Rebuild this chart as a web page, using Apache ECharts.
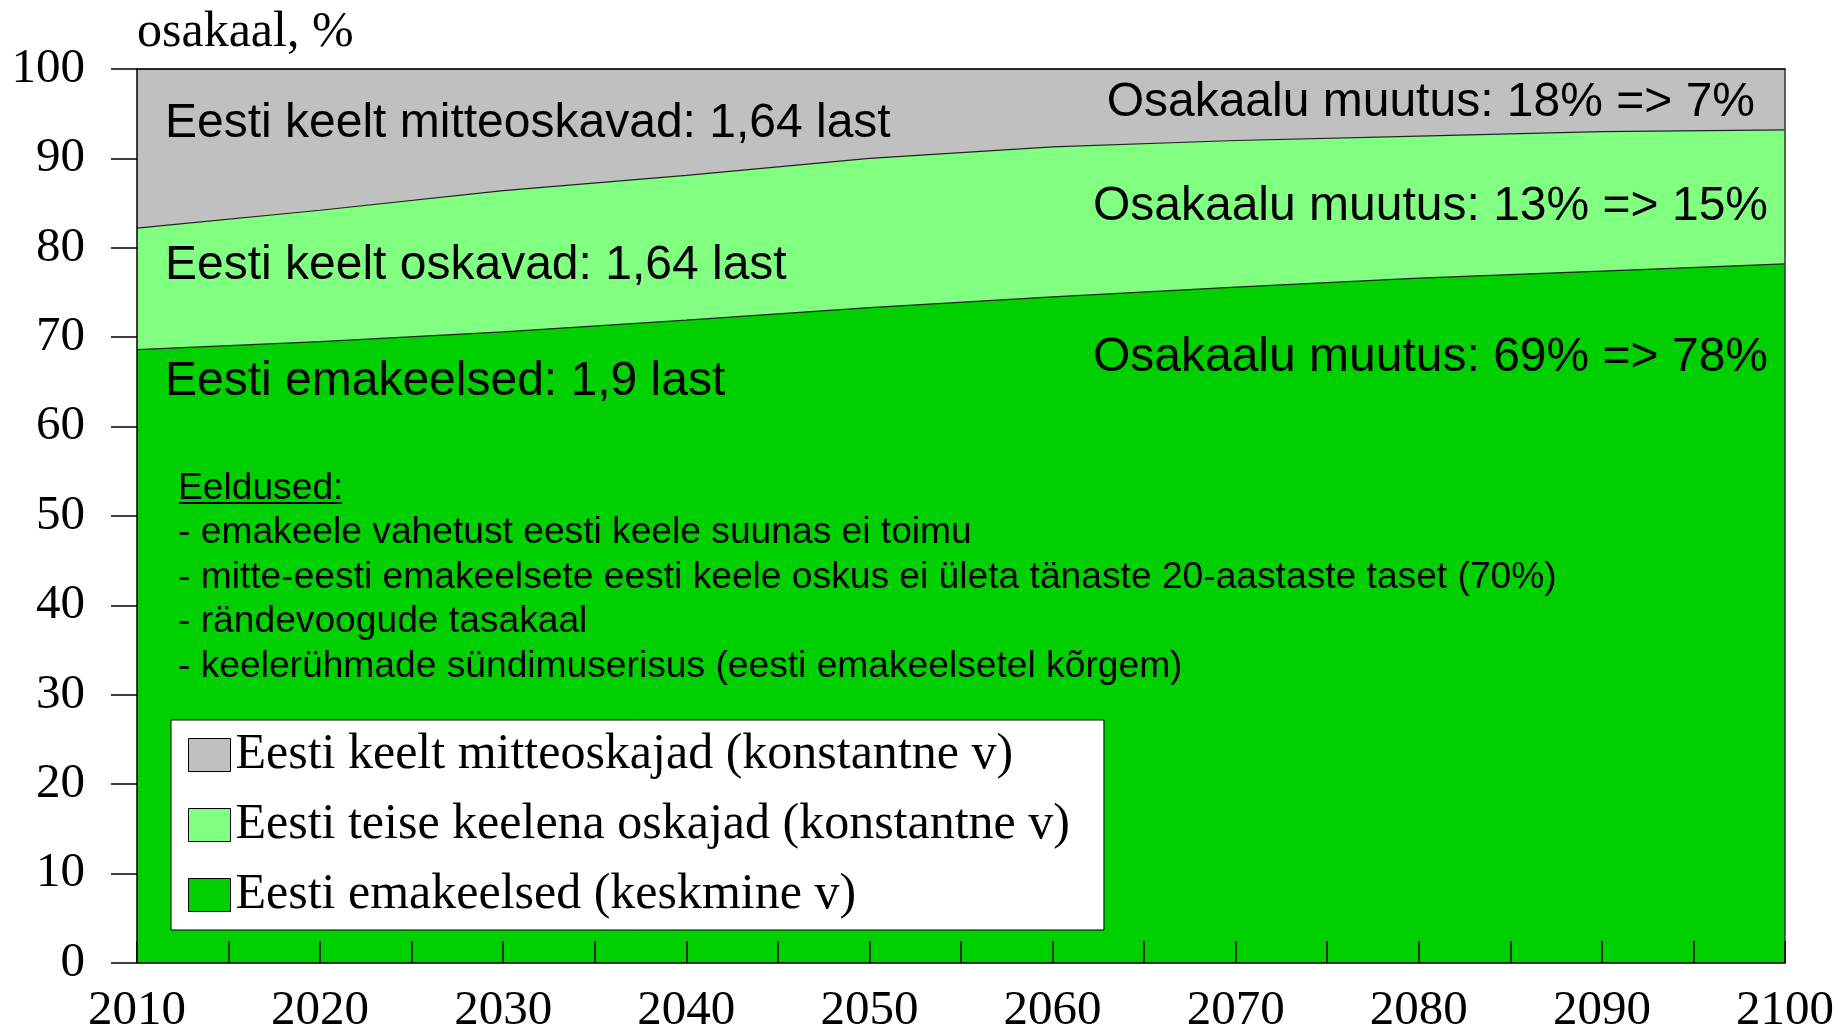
<!DOCTYPE html>
<html>
<head>
<meta charset="utf-8">
<script src="https://cdn.jsdelivr.net/npm/echarts@6/dist/echarts.min.js"></script>
<style>
  html, body { margin: 0; padding: 0; background: #fff; }
  #chart { width: 1838px; height: 1032px; }
</style>
</head>
<body>
<div id="chart"></div>
<script>
// aastad ja osakaalud (%), loetud jooniselt
var years = [2010, 2020, 2030, 2040, 2050, 2060, 2070, 2080, 2090, 2100]
var emakeelsed = [68.6, 69.5, 70.6, 71.9, 73.3, 74.5, 75.6, 76.6, 77.4, 78.2]
var teiseKeelena = [13.6, 14.7, 15.8, 16.2, 16.7, 16.8, 16.4, 15.9, 15.6, 15.0]
var mitteoskajad = [17.8, 15.8, 13.6, 11.9, 10.0, 8.7, 8.0, 7.5, 7.0, 6.8]

var seriesNames = [
  'Eesti keelt mitteoskajad (konstantne v)',
  'Eesti teise keelena oskajad (konstantne v)',
  'Eesti emakeelsed (keskmine v)'
]
var seriesColors = ['#c0c0c0', '#80ff80', '#00d000']

var layerLabels = [
  'Eesti keelt mitteoskavad: 1,64 last',
  'Eesti keelt oskavad: 1,64 last',
  'Eesti emakeelsed: 1,9 last'
]
var changeLabels = [
  'Osakaalu muutus: 18% => 7%',
  'Osakaalu muutus: 13% => 15%',
  'Osakaalu muutus: 69% => 78%'
]
var assumptions = [
  '- emakeele vahetust eesti keele suunas ei toimu',
  '- mitte-eesti emakeelsete eesti keele oskus ei ületa tänaste 20-aastaste taset (70%)',
  '- rändevoogude tasakaal',
  '- keelerühmade sündimuserisus (eesti emakeelsetel kõrgem)'
]

// kihid kuhjatakse käsitsi: iga pind ulatub nullist oma kumulatiivse väärtuseni
var cumTeise = emakeelsed.map(function (v, i) { return v + teiseKeelena[i] })
var cumKokku = cumTeise.map(function (v, i) { return v + mitteoskajad[i] })

function pairs(vals) {
  return years.map(function (y, i) { return [y, +vals[i].toFixed(2)] })
}

var serif = 'Liberation Serif'
var sans = 'Liberation Sans'

var chart = echarts.init(document.getElementById('chart'))

var layers = [cumKokku, cumTeise, emakeelsed]
var series = layers.map(function (vals, i) {
  return {
    name: seriesNames[i],
    type: 'line',
    data: pairs(vals),
    symbol: 'none',
    silent: true,
    z: 2 + i,
    itemStyle: { color: seriesColors[i] },
    lineStyle: { color: '#222', width: 1.2 },
    areaStyle: { color: seriesColors[i], opacity: 1, origin: 'start' }
  }
})

var graphics = []
// kihtide nimed vasakul
var leftY = [128, 270, 386]
layerLabels.forEach(function (t, i) {
  graphics.push({
    type: 'text', left: 165, top: leftY[i] - 28, z: 100,
    style: { text: t, font: '48px "' + sans + '"', fill: '#000' }
  })
})
// osakaalu muutused paremal
var rightY = [107, 211, 362]
var rightX = [1755, 1768, 1768]
changeLabels.forEach(function (t, i) {
  graphics.push({
    type: 'text', right: 1838 - rightX[i], top: rightY[i] - 28, z: 100,
    style: { text: t, font: '48px "' + sans + '"', fill: '#000' }
  })
})
// eeldused
graphics.push({
  type: 'text', left: 178, top: 466, z: 100,
  style: {
    text: ['Eeldused:'].concat(assumptions).join('\n'),
    font: '37.2px "' + sans + '"', fill: '#000', lineHeight: 44.5
  }
})
graphics.push({
  type: 'line', z: 100,
  shape: { x1: 179, y1: 503, x2: 342, y2: 503 },
  style: { stroke: '#000', lineWidth: 2 }
})

var option = {
  animation: false,
  backgroundColor: '#fff',
  grid: { left: 137, right: 53, top: 69, bottom: 69, outerBoundsMode: 'none', containLabel: false },
  legend: {
    orient: 'vertical',
    left: 171,
    top: 720,
    data: seriesNames,
    icon: 'rect',
    itemWidth: 42,
    itemHeight: 33,
    itemGap: 20,
    selectedMode: false,
    backgroundColor: '#fff',
    borderColor: '#000',
    borderWidth: 1,
    padding: [10, 34, 10, 17],
    itemStyle: { borderColor: '#000', borderWidth: 1 },
    textStyle: { fontFamily: serif, fontSize: 50, color: '#000' },
    z: 50
  },
  xAxis: [{
    type: 'value',
    min: 2010,
    max: 2100,
    interval: 5,
    z: 10,
    axisLine: { show: true, onZero: false, lineStyle: { color: '#000', width: 1.5 } },
    axisTick: { show: true, inside: true, length: 22, lineStyle: { color: '#000', width: 1.5 } },
    splitLine: { show: false },
    axisLabel: {
      fontFamily: serif, fontSize: 49, color: '#000', margin: 24,
      formatter: function (v) { return v % 10 === 0 ? String(v) : '' }
    }
  }, {
    type: 'value',
    position: 'top',
    min: 2010,
    max: 2100,
    z: 10,
    axisLine: { show: true, onZero: false, lineStyle: { color: '#000', width: 1.5 } },
    axisTick: { show: false },
    axisLabel: { show: false },
    splitLine: { show: false }
  }],
  yAxis: [{
    type: 'value',
    min: 0,
    max: 100,
    interval: 10,
    z: 10,
    name: 'osakaal, %',
    nameLocation: 'end',
    nameGap: 11,
    nameTextStyle: { fontFamily: serif, fontSize: 50, color: '#000', align: 'left' },
    axisLine: { show: true, onZero: false, lineStyle: { color: '#000', width: 1.5 } },
    axisTick: { show: true, inside: false, length: 26, lineStyle: { color: '#000', width: 1.5 } },
    splitLine: { show: false },
    axisLabel: { fontFamily: serif, fontSize: 49, color: '#000', margin: 52 }
  }, {
    type: 'value',
    position: 'right',
    min: 0,
    max: 100,
    z: 10,
    axisLine: { show: true, onZero: false, lineStyle: { color: '#333', width: 1.5 } },
    axisTick: { show: false },
    axisLabel: { show: false },
    splitLine: { show: false }
  }],
  series: series,
  graphic: graphics
}

chart.setOption(option)
</script>
</body>
</html>
